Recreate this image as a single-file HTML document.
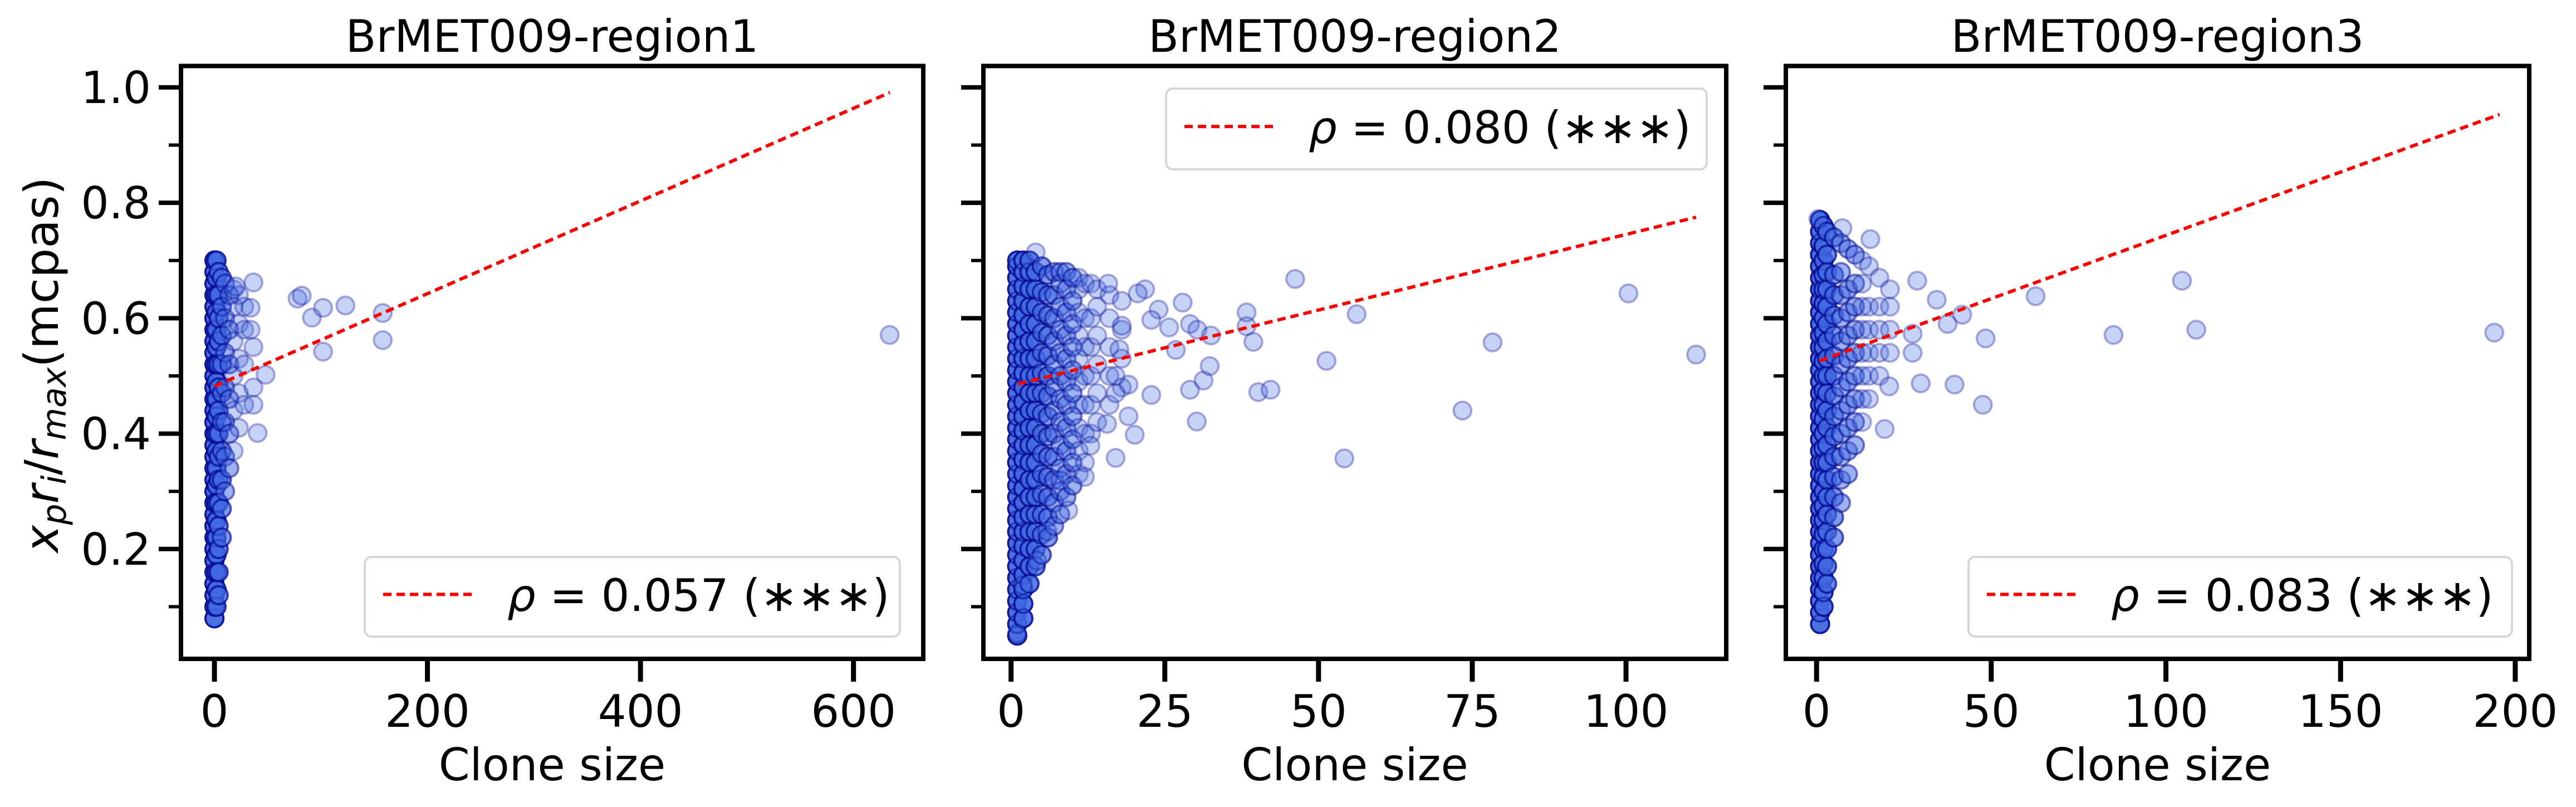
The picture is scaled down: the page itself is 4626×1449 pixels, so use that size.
<!DOCTYPE html>
<html><head><meta charset="utf-8"><style>
html,body{margin:0;padding:0;background:#fff;}
svg{display:block;font-family:"DejaVu Sans","Liberation Sans",sans-serif;}
</style></head><body>
<svg id="chart" width="4626" height="1449" viewBox="0 0 4626 1449" xmlns="http://www.w3.org/2000/svg">
<rect width="4626" height="1449" fill="#fff"/>
<text transform="translate(104,655) rotate(-90)" text-anchor="middle" font-size="84"><tspan font-style="italic">x</tspan><tspan font-style="italic" font-size="60" dy="14">p</tspan><tspan font-style="italic" dy="-14">r</tspan><tspan font-style="italic" font-size="60" dy="14">i</tspan><tspan dy="-14">/</tspan><tspan font-style="italic">r</tspan><tspan font-style="italic" font-size="60" dy="14">max</tspan><tspan dy="-14">(mcpas)</tspan></text>
</svg>
<script>
// ---------- data ----------
const yTicks = [0.2, 0.4, 0.6, 0.8, 1.0];
const yTickLabels = ["0.2", "0.4", "0.6", "0.8", "1.0"];
const yMinorTicks = [0.1, 0.3, 0.5, 0.7, 0.9];
const panelTitles = ["BrMET009-region1", "BrMET009-region2", "BrMET009-region3"];
const legendLabels = ["0.057", "0.080", "0.083"];

const p1XTicks = [0, 200, 400, 600];
const p2XTicks = [0, 25, 50, 75, 100];
const p3XTicks = [0, 50, 100, 150, 200];

const p1FitX = [0, 634];
const p1FitY = [0.482, 0.991];
const p2FitX = [1.1, 111.4];
const p2FitY = [0.486, 0.775];
const p3FitX = [0.8, 195.5];
const p3FitY = [0.526, 0.953];

// columns of overlapping clones: x, y-values, and how many clones sit at each point
const p1ColX = [0, 2, 4, 7, 10, 14, 18, 23, 28];
const p1ColN = [8, 5, 4, 3, 2, 2, 1, 1, 1];
const p1ColY = [
 [0.08,0.10,0.12,0.14,0.16,0.18,0.20,0.22,0.24,0.26,0.28,0.30,0.32,0.34,0.36,0.38,0.40,0.42,0.44,0.46,0.48,0.50,0.52,0.54,0.56,0.58,0.60,0.62,0.64,0.66,0.68,0.70],
 [0.10,0.13,0.16,0.19,0.22,0.25,0.28,0.31,0.34,0.37,0.40,0.43,0.46,0.49,0.52,0.55,0.58,0.61,0.64,0.67,0.70],
 [0.12,0.16,0.20,0.24,0.28,0.32,0.36,0.40,0.44,0.48,0.52,0.56,0.60,0.64,0.68],
 [0.22,0.27,0.32,0.37,0.42,0.47,0.52,0.57,0.62,0.67],
 [0.30,0.36,0.42,0.48,0.54,0.60,0.66],
 [0.34,0.40,0.46,0.52,0.58,0.64],
 [0.37,0.44,0.50,0.56,0.62,0.65],
 [0.41,0.47,0.53,0.59,0.64],
 [0.45,0.52,0.58,0.62]
];
const p1OutX = [36.6,78,82,91.5,102,102,123,158,158,634,40.6,48,36.6,36.6,36.6,34,34,20];
const p1OutY = [0.662,0.634,0.639,0.601,0.618,0.542,0.622,0.609,0.562,0.571,0.401,0.502,0.45,0.48,0.55,0.58,0.618,0.655];

const p2ColX = [1, 2, 3, 4, 5, 6, 7, 8, 9, 10, 11, 12, 13, 14, 16, 18];
const p2ColN = [8, 6, 5, 4, 3, 3, 2, 2, 2, 2, 1, 1, 1, 1, 1, 1];
const p2ColY = [
 [0.05,0.07,0.09,0.11,0.13,0.15,0.17,0.19,0.21,0.23,0.25,0.27,0.29,0.31,0.33,0.35,0.37,0.39,0.41,0.43,0.45,0.47,0.49,0.51,0.53,0.55,0.57,0.59,0.61,0.63,0.65,0.67,0.69,0.70],
 [0.08,0.105,0.13,0.155,0.18,0.205,0.23,0.255,0.28,0.305,0.33,0.355,0.38,0.405,0.43,0.455,0.48,0.505,0.53,0.555,0.58,0.605,0.63,0.655,0.68,0.70],
 [0.14,0.17,0.20,0.23,0.26,0.29,0.32,0.35,0.38,0.41,0.44,0.47,0.50,0.53,0.56,0.59,0.62,0.65,0.68,0.70],
 [0.17,0.20,0.23,0.26,0.29,0.32,0.35,0.38,0.41,0.44,0.47,0.50,0.53,0.56,0.59,0.62,0.65,0.68],
 [0.19,0.225,0.26,0.295,0.33,0.365,0.40,0.435,0.47,0.505,0.54,0.575,0.61,0.645,0.69],
 [0.22,0.255,0.29,0.325,0.36,0.395,0.43,0.465,0.50,0.535,0.57,0.605,0.64,0.675],
 [0.24,0.28,0.32,0.36,0.40,0.44,0.48,0.52,0.56,0.60,0.64,0.68],
 [0.26,0.30,0.34,0.38,0.42,0.46,0.50,0.54,0.58,0.62,0.66,0.68],
 [0.29,0.33,0.37,0.41,0.45,0.49,0.53,0.57,0.61,0.65,0.68],
 [0.31,0.35,0.39,0.43,0.47,0.51,0.55,0.59,0.63,0.67],
 [0.33,0.37,0.41,0.45,0.49,0.53,0.57,0.61,0.65,0.67],
 [0.35,0.40,0.45,0.50,0.55,0.60,0.66],
 [0.40,0.45,0.50,0.55,0.60,0.66],
 [0.42,0.47,0.52,0.57,0.62,0.65],
 [0.45,0.50,0.55,0.60,0.64],
 [0.48,0.53,0.58,0.63]
];
const p2OutX = [4,46.2,100.4,56.2,78.3,111.4,51.3,73.4,54.2,40.2,42.2,30.2,29.1,31.3,32.3,38.3,38.3,39.4,27.9,24,22.8,21.8,20.6,25.7,26.8,29.1,30.3,32.5,22.8,20.1,17,19.1,15.6,19.1,17,17,15.8,18,17.6,12.9,12,8,9.3,5.9,4.2,1.9,1.0];
const p2OutY = [0.714,0.668,0.643,0.607,0.558,0.537,0.526,0.44,0.357,0.472,0.476,0.421,0.476,0.492,0.517,0.61,0.586,0.559,0.627,0.615,0.597,0.65,0.643,0.584,0.545,0.59,0.58,0.57,0.467,0.398,0.358,0.43,0.417,0.485,0.47,0.5,0.66,0.587,0.546,0.379,0.325,0.319,0.267,0.231,0.18,0.137,0.054];

const p3ColX = [1, 2, 3, 5, 7, 9, 11, 13, 15, 18, 21];
const p3ColN = [8, 6, 4, 3, 2, 2, 2, 1, 1, 1, 1];
const p3ColY = [
 [0.07,0.09,0.11,0.13,0.15,0.17,0.19,0.21,0.23,0.25,0.27,0.29,0.31,0.33,0.35,0.37,0.39,0.41,0.43,0.45,0.47,0.49,0.51,0.53,0.55,0.57,0.59,0.61,0.63,0.65,0.67,0.69,0.71,0.73,0.75,0.77],
 [0.10,0.125,0.15,0.175,0.20,0.225,0.25,0.275,0.30,0.325,0.35,0.375,0.40,0.425,0.45,0.475,0.50,0.525,0.55,0.575,0.60,0.625,0.65,0.675,0.70,0.725,0.76],
 [0.14,0.17,0.20,0.23,0.26,0.29,0.32,0.35,0.38,0.41,0.44,0.47,0.50,0.53,0.56,0.59,0.62,0.65,0.68,0.71,0.75],
 [0.22,0.255,0.29,0.325,0.36,0.395,0.43,0.465,0.50,0.535,0.57,0.605,0.64,0.675,0.74],
 [0.28,0.32,0.36,0.40,0.44,0.48,0.52,0.56,0.60,0.64,0.68,0.73],
 [0.33,0.37,0.41,0.45,0.49,0.53,0.57,0.61,0.65,0.72],
 [0.38,0.42,0.46,0.50,0.54,0.58,0.62,0.66,0.71],
 [0.42,0.46,0.50,0.54,0.58,0.62,0.66,0.70],
 [0.46,0.50,0.54,0.58,0.62,0.69],
 [0.50,0.54,0.58,0.62,0.67],
 [0.54,0.58,0.62,0.65]
];
const p3OutX = [104.6,194,108.7,85,62.7,48.4,47.6,39.5,29.8,19.5,41.7,37.5,34.4,28.8,27.5,27.5,20.8,15.4,7.4,0.5];
const p3OutY = [0.665,0.575,0.58,0.571,0.638,0.565,0.45,0.485,0.487,0.408,0.606,0.59,0.632,0.665,0.573,0.54,0.482,0.737,0.756,0.772];

// ---------- layout ----------
const NS = "http://www.w3.org/2000/svg";
const svg = document.getElementById("chart");
const TOP = 118.5, BOT = 1183, YMIN = 0.0097, YMAX = 1.037;
const panels = [
 {L:325, R:1658, xmin:-31.4, xmax:665.5, ticks:p1XTicks, colX:p1ColX, colN:p1ColN, colY:p1ColY, outX:p1OutX, outY:p1OutY, fitX:p1FitX, fitY:p1FitY, leg:{x:655,y:1000,w:961,h:143}, labels:true},
 {L:1766, R:3100, xmin:-4.5, xmax:116.3, ticks:p2XTicks, colX:p2ColX, colN:p2ColN, colY:p2ColY, outX:p2OutX, outY:p2OutY, fitX:p2FitX, fitY:p2FitY, leg:{x:2094,y:159,w:971,h:145}, labels:false},
 {L:3207, R:4542, xmin:-8.8, xmax:204, ticks:p3XTicks, colX:p3ColX, colN:p3ColN, colY:p3ColY, outX:p3OutX, outY:p3OutY, fitX:p3FitX, fitY:p3FitY, leg:{x:3535,y:1000,w:976,h:143}, labels:false}
];
function mk(tag, attrs, parent){const e=document.createElementNS(NS,tag);for(const k in attrs)e.setAttribute(k,attrs[k]);(parent||svg).appendChild(e);return e;}
function yScale(v){return BOT-(v-YMIN)/(YMAX-YMIN)*(BOT-TOP);}

panels.forEach((p,i)=>{
 const xs = v => p.L+(v-p.xmin)/(p.xmax-p.xmin)*(p.R-p.L);
 const g = mk("g",{});
 
 
 const pts = mk("g",{},g);
 
 
 const drawPt=(x,y)=>{
  const c=mk("circle",{cx:xs(x).toFixed(1),cy:yScale(y).toFixed(1),r:16,fill:"rgba(65,105,225,0.3)",stroke:"rgba(0,0,139,0.3)","stroke-width":4},pts);
  
  
 };
 p.colX.forEach((cx,j)=>{
  for(let k=0;k<p.colN[j];k++) p.colY[j].forEach(y=>drawPt(cx,y));
 });
 p.outX.forEach((x,j)=>drawPt(x,p.outY[j]));
 const ln=mk("line",{x1:xs(p.fitX[0]),y1:yScale(p.fitY[0]),x2:xs(p.fitX[1]),y2:yScale(p.fitY[1]),stroke:"#ff0000","stroke-width":6,"stroke-dasharray":"15 9"},g);
 
 
 const box=mk("rect",{x:p.L,y:TOP,width:p.R-p.L,height:BOT-TOP,fill:"none",stroke:"#000","stroke-width":8},g);
 
 
 yTicks.forEach((v,j)=>{
  const t=mk("line",{x1:p.L-40,x2:p.L,y1:yScale(v),y2:yScale(v),stroke:"#000","stroke-width":8},g);
  
  
  if(p.labels){
   const tx=mk("text",{x:p.L-54,y:yScale(v)+28,"text-anchor":"end","font-size":79},g);
   tx.textContent=yTickLabels[j];
   
   
  }
 });
 yMinorTicks.forEach(v=>{
  const t=mk("line",{x1:p.L-22,x2:p.L,y1:yScale(v),y2:yScale(v),stroke:"#000","stroke-width":6},g);
  
  
 });
 p.ticks.forEach(v=>{
  const t=mk("line",{x1:xs(v),x2:xs(v),y1:BOT,y2:BOT+41,stroke:"#000","stroke-width":9},g);
  
  
  const tx=mk("text",{x:xs(v),y:1305,"text-anchor":"middle","font-size":80},g);
  tx.textContent=String(v);
  
  
 });
 const xl=mk("text",{x:(p.L+p.R)/2,y:1401,"text-anchor":"middle","font-size":80},g);
 xl.textContent="Clone size";
 
 
 const tt=mk("text",{x:(p.L+p.R)/2,y:93,"text-anchor":"middle","font-size":80},g);
 tt.textContent=panelTitles[i];
 
 
 const lg=mk("g",{},g);
 
 
 mk("rect",{x:p.leg.x,y:p.leg.y,width:p.leg.w,height:p.leg.h,rx:12,fill:"rgba(255,255,255,0.8)",stroke:"#d6d6d6","stroke-width":4},lg);
 const my=p.leg.y+p.leg.h*0.47;
 const ll=mk("line",{x1:p.leg.x+33,x2:p.leg.x+192,y1:my,y2:my,stroke:"#ff0000","stroke-width":6,"stroke-dasharray":"15 9"},lg);
 
 
 const lt=mk("text",{x:p.leg.x+256,y:my+30,"font-size":80},lg);
 lt.innerHTML='<tspan font-style="italic">ρ</tspan> = '+legendLabels[i]+' (∗∗∗)';
 
 
});
</script>
</body></html>
